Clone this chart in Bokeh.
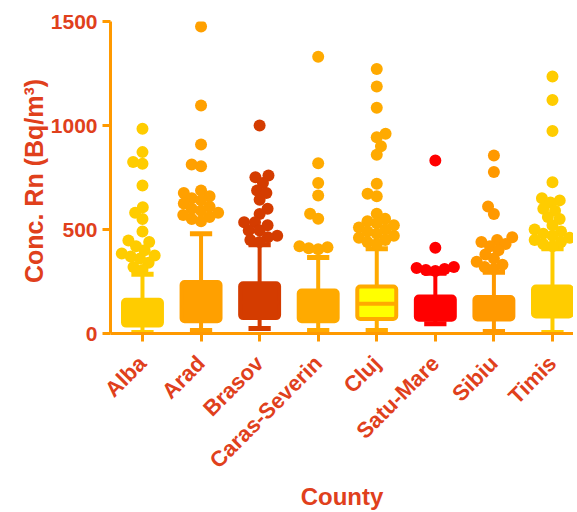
import numpy as np
from bokeh.plotting import figure
from bokeh.models import Range1d, FixedTicker, ColumnDataSource
from bokeh.embed import file_html
from bokeh.resources import INLINE

# ---------------- data ----------------
counties = ["Alba", "Arad", "Brasov", "Caras-Severin", "Cluj", "Satu-Mare", "Sibiu", "Timis"]
q1 = [38, 59, 74, 59, 70, 66, 67, 82]
median = [90, 130, 150, 110, 143, 110, 110, 150]
q3 = [162, 247, 242, 207, 226, 178, 175, 226]
lower = [5, 14, 24, 14, 14, 47, 10, 5]
upper = [285, 480, 427, 365, 407, 290, 295, 408]

alba_out = [984, 872, 824, 816, 711, 607, 580, 551, 490, 447, 440, 420, 400, 385,
            375, 370, 360, 340, 320, 305]
arad_out = [1476, 1096, 909, 812, 804, 687, 675, 660, 650, 640, 625, 610, 600, 590,
            580, 570, 560, 550, 540]
brasov_out = [1000, 760, 751, 723, 687, 675, 643, 600, 575, 535, 535, 520, 495, 495,
              470, 463, 450, 440]
caras_out = [1330, 819, 723, 663, 576, 552, 420, 415, 410, 405]
cluj_out = [1272, 1188, 1085, 960, 943, 900, 859, 720, 672, 660, 576, 552, 540, 530,
            520, 510, 500, 490, 480, 470, 460, 450, 440, 430]
satu_out = [832, 412, 320, 315, 310, 305, 300]
sibiu_out = [856, 776, 611, 575, 463, 450, 440, 430, 420, 400, 380, 360, 345, 330,
             320, 310]
timis_out = [1236, 1123, 973, 727, 650, 640, 630, 600, 590, 560, 550, 520, 500, 490,
             480, 470, 460, 450, 440, 430, 420]
outliers = [alba_out, arad_out, brasov_out, caras_out, cluj_out, satu_out, sibiu_out, timis_out]

# ---------------- styles ----------------
box_fill = ["#ffcc00", "#ffa000", "#d43c00", "#ffaa00", "#ffff00", "#ff0000", "#ff9900", "#ffcc00"]
box_line = ["#ffcc00", "#ffa000", "#d43c00", "#ffaa00", "#ffaa00", "#ff0000", "#ff9900", "#ffcc00"]
point_col = ["#ffcc00", "#ffa000", "#d43c00", "#ffaa00", "#ffaa00", "#ff0000", "#ff9900", "#ffcc00"]
axis_col = "#ff9900"
text_col = "#e0401c"
font = "Liberation Sans"

W, H = 573, 512
BL, BR, BT, BB = 110, 0, 21, 179
x0, x1 = -0.546, 7.359
y0, y1 = 0, 1500
frame_w = W - BL - BR
frame_h = H - BT - BB
px_x = frame_w / (x1 - x0)
px_y = frame_h / (y1 - y0)

MARK = 12
D = 9.5


def swarm(values):
    """Simple beeswarm layout: returns x offsets (data units) for the values."""
    order = np.argsort(values)
    placed = []
    offs = [0.0] * len(values)
    for k, idx in enumerate(order):
        y = values[idx] * px_y
        cands = [0.0]
        conf = []
        for (xj, yj) in placed:
            dy = abs(y - yj)
            if dy < D:
                w = np.sqrt(D * D - dy * dy)
                conf.append((xj, w))
                cands += [xj + w, xj - w]
        sign = 1 if k % 2 == 0 else -1
        cands.sort(key=lambda c: (round(abs(c), 6), -sign * c))
        chosen = 0.0
        for c in cands:
            if all(abs(c - xj) >= w - 1e-6 for (xj, w) in conf):
                chosen = c
                break
        placed.append((chosen, y))
        offs[idx] = chosen / px_x
    return offs


xs, ys, cs = [], [], []
for i, vals in enumerate(outliers):
    o = swarm(vals)
    xs += [i + d for d in o]
    ys += list(vals)
    cs += [point_col[i]] * len(vals)

pos = list(range(len(counties)))
box_src = ColumnDataSource(dict(x=pos, q1=q1, q3=q3, med=median, lo=lower, hi=upper,
                                fill=box_fill, line=box_line,
                                xl=[i - 0.335 for i in pos], xr=[i + 0.335 for i in pos],
                                cl=[i - 0.19 for i in pos], cr=[i + 0.19 for i in pos]))
pt_src = ColumnDataSource(dict(x=xs, y=ys, c=cs))

p = figure(width=W, height=H, output_backend="svg", toolbar_location=None,
           x_range=Range1d(x0, x1), y_range=Range1d(y0, y1),
           min_border_left=BL, min_border_right=BR, min_border_top=BT, min_border_bottom=BB,
           x_axis_label="County", y_axis_label="Conc. Rn  (Bq/m³)")
p.outline_line_color = None
p.grid.visible = False
p.background_fill_color = "white"
p.border_fill_color = "white"

# whiskers
p.segment(x0="x", x1="x", y0="q3", y1="hi", line_color="line", line_width=4, source=box_src)
p.segment(x0="x", x1="x", y0="lo", y1="q1", line_color="line", line_width=4, source=box_src)
p.segment(x0="cl", x1="cr", y0="hi", y1="hi", line_color="line", line_width=5, source=box_src)
p.segment(x0="cl", x1="cr", y0="lo", y1="lo", line_color="line", line_width=5, source=box_src)
# boxes
p.vbar(x="x", bottom="q1", top="q3", width=0.665, fill_color="fill", line_color="line",
       line_width=4, border_radius=3, source=box_src)
p.segment(x0="xl", x1="xr", y0="med", y1="med", line_color="line", line_width=4, source=box_src)
# points
p.scatter(x="x", y="y", size=MARK, fill_color="c", line_color="c", line_width=0, source=pt_src)

for ax in (p.xaxis[0], p.yaxis[0]):
    ax.axis_line_color = axis_col
    ax.axis_line_width = 3
    ax.major_tick_line_color = axis_col
    ax.major_tick_line_width = 3
    ax.major_tick_out = 8
    ax.major_tick_in = 0
    ax.minor_tick_line_color = None
    ax.major_label_text_font = font
    ax.major_label_text_font_style = "bold"
    ax.major_label_text_font_size = "21px"
    ax.major_label_text_color = text_col
    ax.axis_label_text_font = font
    ax.axis_label_text_font_style = "bold"
    ax.axis_label_text_font_size = "24px"
    ax.axis_label_text_color = text_col

p.yaxis.ticker = FixedTicker(ticks=[0, 500, 1000, 1500])
p.yaxis.major_label_standoff = 5
p.yaxis.axis_label_standoff = 0
p.yaxis.axis_label_text_font_size = "25px"
p.xaxis.ticker = FixedTicker(ticks=pos)
p.xaxis.major_label_overrides = {i: c for i, c in enumerate(counties)}
p.xaxis.major_label_orientation = np.pi / 4
p.xaxis.major_label_standoff = 18
p.xaxis.major_label_text_font_size = "22px"
p.xaxis.axis_label_standoff = -2

open("out.html", "w").write(file_html(p, INLINE))
